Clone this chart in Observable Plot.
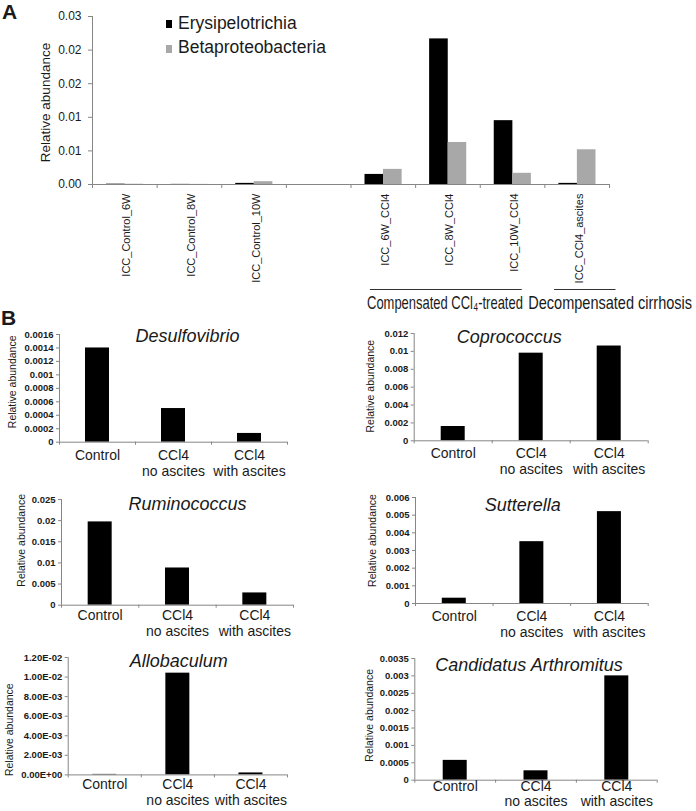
<!DOCTYPE html>
<html>
<head>
<meta charset="utf-8">
<script src="https://cdn.jsdelivr.net/npm/d3@7"></script>
<script src="https://cdn.jsdelivr.net/npm/@observablehq/plot@0.6"></script>
<style>
html, body { margin: 0; padding: 0; background: #fff; }
#fig { position: relative; width: 696px; height: 811px; overflow: hidden;
  font-family: "Liberation Sans", Arial, Helvetica, sans-serif; color: #1a1a1a; }
#fig svg { position: absolute; overflow: visible; }
.letter { position: absolute; font-weight: bold; font-size: 21px; line-height: 1; }
.leg { position: absolute; font-size: 17.5px; line-height: 1; white-space: nowrap; }
.sw { position: absolute; width: 6px; height: 8px; }
</style>
</head>
<body>
<div id="fig"></div>
<script>
// ---------------- Panel A data ----------------
const categoriesA = ["ICC_Control_6W", "ICC_Control_8W", "ICC_Control_10W", "",
  "ICC_6W_CCl4", "ICC_8W_CCl4", "ICC_10W_CCl4", "ICC_CCl4_ascites"];
const seriesA = ["Erysipelotrichia", "Betaproteobacteria"];
const erysipelotrichia = [0.00006, 0.00002, 0.0002, null, 0.0018, 0.0260, 0.0114, 0.0002];
const betaproteobacteria = [0.00005, 0.00002, 0.0005, null, 0.0027, 0.0075, 0.0020, 0.0062];
const ticksA = [0, 0.006, 0.012, 0.018, 0.024, 0.03];
const groupNamesA = ["Compensated CCl\u2084-treated", "Decompensated cirrhosis"];
const groupFirstA = ["ICC_6W_CCl4", "ICC_CCl4_ascites"];
const groupLastA = ["ICC_10W_CCl4", "ICC_CCl4_ascites"];

// ---------------- Panel B data ----------------
const groupsB = ["Control", "CCl4\nno ascites", "CCl4\nwith ascites"];
const desulfovibrio = [0.0014, 0.0005, 0.00013];
const coprococcus = [0.0016, 0.0098, 0.0106];
const ruminococcus = [0.0197, 0.0088, 0.0029];
const sutterella = [0.0003, 0.0035, 0.0052];
const allobaculum = [0.00005, 0.0104, 0.0002];
const candidatusArthromitus = [0.00057, 0.00027, 0.0030];
const ticksDesulfovibrio = [0, 0.0002, 0.0004, 0.0006, 0.0008, 0.001, 0.0012, 0.0014, 0.0016];
const ticksCoprococcus = [0, 0.002, 0.004, 0.006, 0.008, 0.01, 0.012];
const ticksRuminococcus = [0, 0.005, 0.01, 0.015, 0.02, 0.025];
const ticksSutterella = [0, 0.001, 0.002, 0.003, 0.004, 0.005, 0.006];
const ticksAllobaculum = [0, 0.002, 0.004, 0.006, 0.008, 0.01, 0.012];
const ticksCandidatus = [0, 0.0005, 0.001, 0.0015, 0.002, 0.0025, 0.003, 0.0035];

// ---------------- styles ----------------
const FONT = '"Liberation Sans", Arial, Helvetica, sans-serif';
const AXIS = "#868686";
const INK = "#1a1a1a";
const GRAY = "#a8a8a8";
const fig = document.getElementById("fig");

function place(el, left, top) {
  el.style.position = "absolute";
  el.style.left = left + "px";
  el.style.top = top + "px";
  fig.appendChild(el);
}
function div(cls, text, left, top, extra) {
  const d = document.createElement("div");
  d.className = cls;
  if (text) d.textContent = text;
  Object.assign(d.style, extra || {});
  place(d, left, top);
  return d;
}
const excelGeneral = v => String(v);
const excelSci = v => {
  const [m, e] = v.toExponential(2).split("e");
  const ex = Math.abs(+e);
  return m + "E" + (+e < 0 ? "-" : "+") + String(ex).padStart(2, "0");
};

// ---------------- Panel A ----------------
const idxA = c => categoriesA.indexOf(c);
const rowsA = categoriesA.map((c, i) => ({i, c, ery: erysipelotrichia[i], beta: betaproteobacteria[i]}))
  .filter(d => d.c !== "");
const groupRowsA = groupNamesA.map((label, k) => ({label, a: idxA(groupFirstA[k]), b: idxA(groupLastA[k])}));
// caption styling: line insets (in category widths), caption offset and target width (px)
const groupStyleA = [{l: 0.3, r: 0.35, dx: -3, len: 156}, {l: 0.15, r: -0.1, dx: 33, len: 164}];

const plotA = Plot.plot({
  width: 696, height: 320,
  marginLeft: 92, marginRight: 87, marginTop: 16, marginBottom: 136,
  style: {fontFamily: FONT, background: "transparent", overflow: "visible", color: INK},
  x: {domain: [0, categoriesA.length]},
  y: {domain: [0, d3.max(ticksA)]},
  marks: [
    Plot.rectY(rowsA, {x1: "i", x2: d => d.i + 1, y: "ery", fill: "#000", insetLeft: 14, insetRight: 32}),
    Plot.rectY(rowsA, {x1: "i", x2: d => d.i + 1, y: "beta", fill: GRAY, insetLeft: 32.5, insetRight: 13.5}),
    Plot.ruleX([0], {stroke: AXIS}),
    Plot.ruleY([0], {stroke: AXIS}),
    Plot.axisY({ticks: ticksA, tickFormat: d3.format(".2f"), tickSize: 4, tickPadding: 7,
      fontSize: 12, stroke: AXIS, fill: INK, label: null}),
    Plot.axisX({ticks: d3.range(categoriesA.length + 1), tickSize: 4, tickFormat: () => "",
      stroke: AXIS, label: null}),
    Plot.text(rowsA, {x: d => d.i + 0.5, text: "c", frameAnchor: "bottom", rotate: -90,
      textAnchor: "end", lineAnchor: "middle", dy: 9, dx: 2, fontSize: 11, fill: INK}),
    Plot.text(["Relative abundance"], {frameAnchor: "left", rotate: -90, textAnchor: "middle",
      lineAnchor: "middle", dx: -47, dy: 2, fontSize: 13.5, fill: INK}),
    Plot.ruleY(groupRowsA, {y: d => 0, x1: (d, k) => d.a + groupStyleA[k].l,
      x2: (d, k) => d.b + 1 - groupStyleA[k].r, dy: 105, stroke: "#333"}),
    Plot.text(groupRowsA, {y: d => 0, x: (d, k) => (d.a + d.b + 1) / 2 + groupStyleA[k].dx / 64.625,
      text: "label", textAnchor: "middle", dy: 119, fontSize: 18, fill: INK})
  ]
});
place(plotA, 0, 0);
// condense the group captions horizontally (the original figure's captions are squeezed)
d3.select(plotA).selectAll("text").each(function () {
  const k = groupNamesA.indexOf(this.textContent);
  if (k < 0) return;
  const natural = this.getComputedTextLength();
  const s = groupStyleA[k].len / natural;
  const tr = this.getAttribute("transform");
  if (tr) {
    this.setAttribute("transform", tr + ` scale(${s},1)`);
  } else {
    const x = +this.getAttribute("x") || 0, y = +this.getAttribute("y") || 0;
    this.removeAttribute("x"); this.removeAttribute("y");
    this.setAttribute("transform", `translate(${x},${y}) scale(${s},1)`);
  }
});

div("letter", "A", 2, 1);
div("sw", "", 166, 20, {background: "#000"});
div("leg", seriesA[0], 178, 14.5);
div("sw", "", 166, 44.5, {background: GRAY});
div("leg", seriesA[1], 178, 38.5);

// ---------------- Panel B ----------------
div("letter", "B", 1, 307);

const panelsB = [
  {title: "Desulfovibrio", values: desulfovibrio, ticks: ticksDesulfovibrio, format: excelGeneral},
  {title: "Coprococcus", values: coprococcus, ticks: ticksCoprococcus, format: excelGeneral},
  {title: "Ruminococcus", values: ruminococcus, ticks: ticksRuminococcus, format: excelGeneral},
  {title: "Sutterella", values: sutterella, ticks: ticksSutterella, format: excelGeneral},
  {title: "Allobaculum", values: allobaculum, ticks: ticksAllobaculum, format: excelSci},
  {title: "Candidatus Arthromitus", values: candidatusArthromitus, ticks: ticksCandidatus, format: excelGeneral}
];
// layout (pixels)
const layoutB = [
  {left: 0,   axisX: 59,    frameW: 228,   top: 334,   frameH: 107.7, titleDx: 14,  titleDy: 2,   labelDx: -47, labelDy: -6.5, xlabDy: 6,   lh: 1.15},
  {left: 346, axisX: 413.7, frameW: 234,   top: 332.7, frameH: 107.3, titleDx: -22, titleDy: 3.7, labelDx: -44, labelDy: -1,   xlabDy: 6,   lh: 1.15},
  {left: 0,   axisX: 61,    frameW: 232,   top: 499.3, frameH: 105.7, titleDx: 10,  titleDy: 5,   labelDx: -40, labelDy: -12,  xlabDy: 3.5, lh: 1.15},
  {left: 346, axisX: 415,   frameW: 232.7, top: 496.7, frameH: 106,   titleDx: -9,  titleDy: 8,   labelDx: -43, labelDy: -10,  xlabDy: 6,   lh: 1.15},
  {left: 0,   axisX: 67.7,  frameW: 219.3, top: 657.3, frameH: 117.4, titleDx: 1,   titleDy: 4,   labelDx: -59, labelDy: 13.5, xlabDy: 3,   lh: 1.15},
  {left: 346, axisX: 414.3, frameW: 242.4, top: 658.3, frameH: 121.7, titleDx: -7,  titleDy: 6.3, labelDx: -45, labelDy: -4,   xlabDy: 0.5, lh: 1.05}
];

panelsB.forEach((p, k) => {
  const L = layoutB[k];
  const n = groupsB.length;
  const rows = p.values.map((v, i) => ({i, v, label: groupsB[i]}));
  const step = L.frameW / n;
  const inset = (step - 24) / 2;
  const mt = 24, mb = 50, width = 350;
  const marginLeft = L.axisX - L.left;
  const svg = Plot.plot({
    width, height: mt + L.frameH + mb,
    marginLeft, marginRight: width - marginLeft - L.frameW, marginTop: mt, marginBottom: mb,
    style: {fontFamily: FONT, background: "transparent", overflow: "visible", color: INK},
    x: {domain: [0, n]},
    y: {domain: [0, d3.max(p.ticks)]},
    marks: [
      Plot.rectY(rows, {x1: "i", x2: d => d.i + 1, y: "v", fill: "#000", insetLeft: inset, insetRight: inset}),
      Plot.ruleX([0], {stroke: AXIS}),
      Plot.ruleY([0], {stroke: AXIS}),
      Plot.axisY({ticks: p.ticks, tickFormat: p.format, tickSize: 3, tickPadding: 3,
        fontSize: 9.5, fontWeight: "bold", stroke: AXIS, fill: INK, label: null}),
      Plot.axisX({ticks: d3.range(n + 1), tickSize: 3, tickFormat: () => "", stroke: AXIS, label: null}),
      Plot.text(rows, {x: d => d.i + 0.5, text: "label", frameAnchor: "bottom", lineAnchor: "top",
        dy: L.xlabDy, fontSize: 14, lineHeight: L.lh, fill: INK}),
      Plot.text([p.title], {frameAnchor: "top", textAnchor: "middle", lineAnchor: "middle",
        dx: L.titleDx, dy: L.titleDy, fontSize: 18, fontStyle: "italic", fill: INK}),
      Plot.text(["Relative abundance"], {frameAnchor: "left", rotate: -90, textAnchor: "middle",
        lineAnchor: "middle", dx: L.labelDx, dy: L.labelDy, fontSize: 10.5, fill: INK})
    ]
  });
  place(svg, L.left, L.top - mt);
});
</script>
</body>
</html>
